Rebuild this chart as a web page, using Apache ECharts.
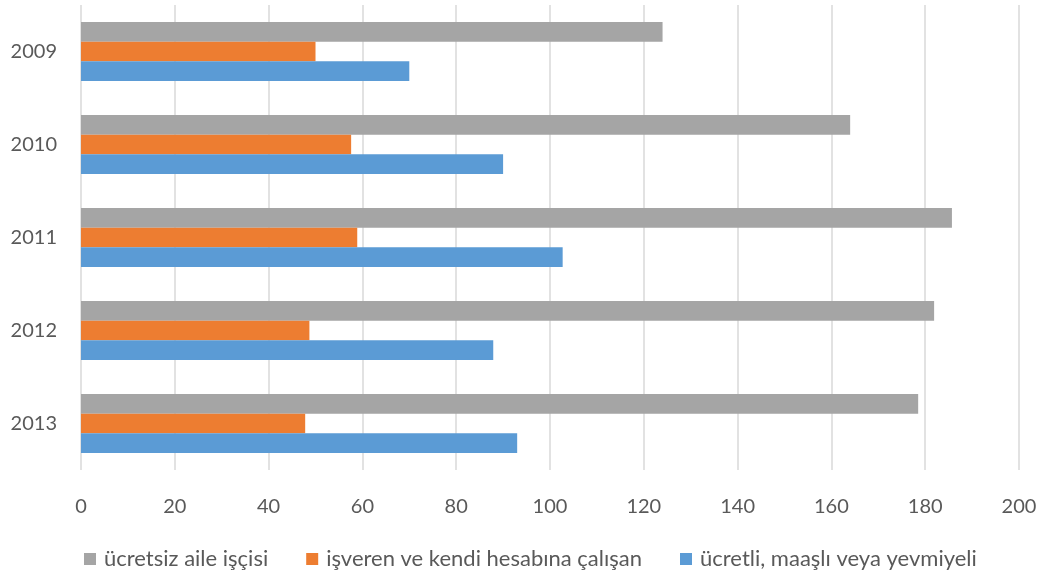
<!DOCTYPE html>
<html>
<head>
<meta charset="utf-8">
<script src="https://cdn.jsdelivr.net/npm/echarts@6/dist/echarts.min.js"></script>
<style>html,body{margin:0;padding:0;background:#fff}#c{width:1046px;height:577px}</style>
</head>
<body>
<div id="c"></div>
<script>
const categories = ['2009', '2010', '2011', '2012', '2013'];
const seriesNames = ['ücretsiz aile işçisi', 'işveren ve kendi hesabına çalışan', 'ücretli, maaşlı veya yevmiyeli'];
const ucretsiz = [124, 164, 185.7, 181.9, 178.5];
const isveren = [50, 57.6, 58.9, 48.7, 47.8];
const ucretli = [70, 90, 102.7, 87.9, 93];
const xTicks = [0, 20, 40, 60, 80, 100, 120, 140, 160, 180, 200];
const colors = ['#a5a5a5', '#ed7d31', '#5b9bd5'];

const font = 'Lato, "Open Sans", sans-serif';
const chart = echarts.init(document.getElementById('c'), null, {renderer: 'canvas'});
const values = [ucretsiz, isveren, ucretli];
chart.setOption({
  animation: false,
  backgroundColor: '#fff',
  grid: {left: 81, right: 27, top: 5, bottom: 107},
  legend: {
    left: 79, top: 543,
    itemWidth: 12, itemHeight: 12, itemGap: 38,
    icon: 'rect',
    textStyle: {fontFamily: font, fontSize: 22, color: '#595959', padding: [0,0,0,3]},
    data: seriesNames
  },
  xAxis: {
    type: 'value', min: xTicks[0], max: xTicks[xTicks.length-1], interval: xTicks[1]-xTicks[0],
    axisLine: {show: false}, axisTick: {show: false},
    splitLine: {lineStyle: {color: '#d9d9d9', width: 1.5}},
    axisLabel: {fontFamily: font, fontSize: 20, color: '#595959', margin: 27}
  },
  yAxis: {
    type: 'category', data: categories, inverse: true,
    axisLine: {show: false}, axisTick: {show: false},
    axisLabel: {fontFamily: font, fontSize: 20, color: '#595959', margin: 24}
  },
  series: seriesNames.map((n, i) => ({
    name: n, type: 'bar', data: values[i],
    itemStyle: {color: colors[i]},
    barGap: '0%', barCategoryGap: '36.6%'
  }))
});
</script>
</body>
</html>
